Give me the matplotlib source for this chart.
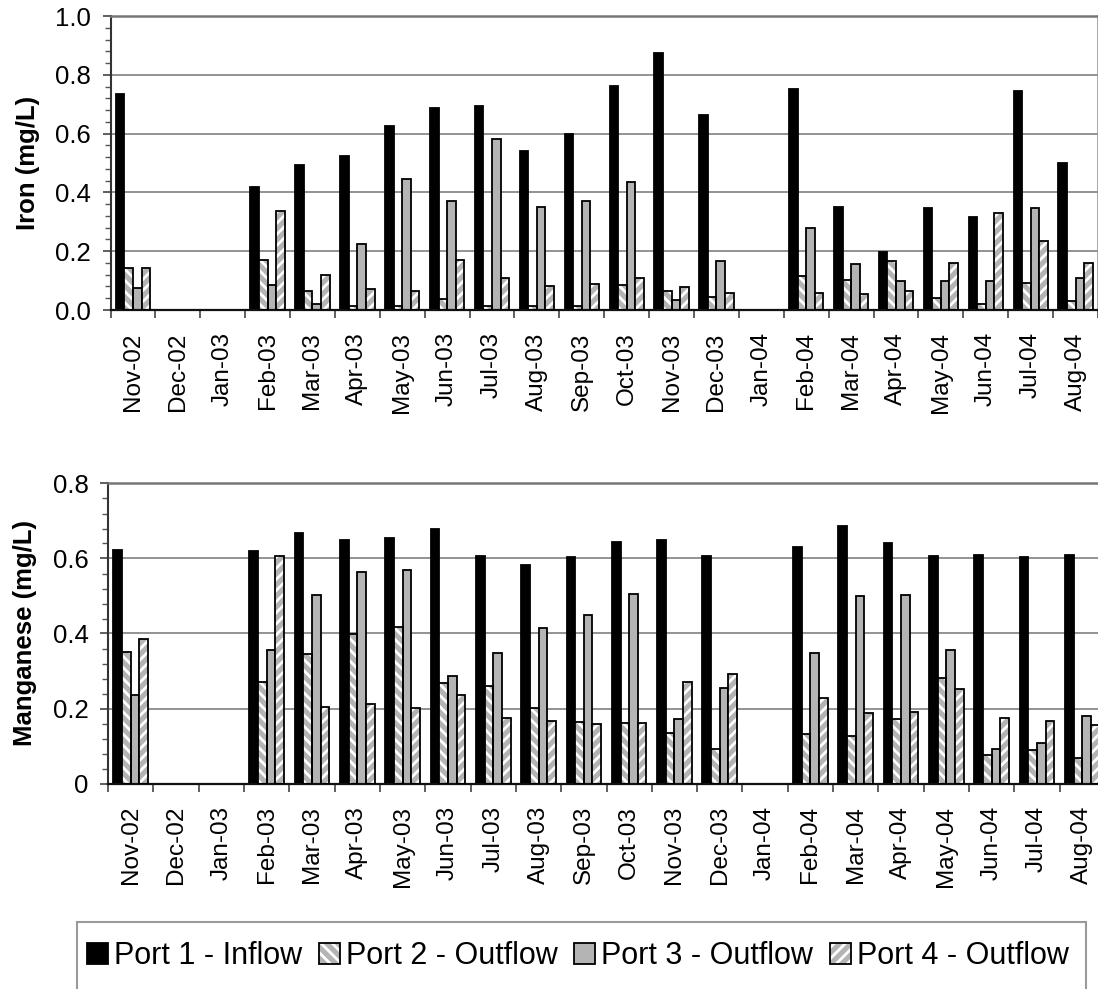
import numpy as np
import matplotlib
matplotlib.use('Agg')
import matplotlib.pyplot as plt
from matplotlib.patches import Patch, Rectangle
from matplotlib.ticker import MultipleLocator, FormatStrFormatter, FixedLocator

plt.rcParams['font.family'] = ['Liberation Sans', 'DejaVu Sans']
plt.rcParams['hatch.linewidth'] = 2.0

months = ['Nov-02', 'Dec-02', 'Jan-03', 'Feb-03', 'Mar-03', 'Apr-03', 'May-03', 'Jun-03',
          'Jul-03', 'Aug-03', 'Sep-03', 'Oct-03', 'Nov-03', 'Dec-03', 'Jan-04', 'Feb-04',
          'Mar-04', 'Apr-04', 'May-04', 'Jun-04', 'Jul-04', 'Aug-04']

series_names = ['Port 1 - Inflow', 'Port 2 - Outflow', 'Port 3 - Outflow', 'Port 4 - Outflow']

iron_p1 = [0.736, None, None, 0.419, 0.494, 0.523, 0.626, 0.688, 0.693, 0.540, 0.598,
           0.763, 0.874, 0.662, None, 0.753, 0.352, 0.197, 0.348, 0.315, 0.744, 0.499]
iron_p2 = [0.144, None, None, 0.171, 0.065, 0.014, 0.014, 0.038, 0.014, 0.014, 0.014,
           0.085, 0.065, 0.045, None, 0.116, 0.102, 0.166, 0.042, 0.019, 0.091, 0.031]
iron_p3 = [0.074, None, None, 0.085, 0.020, 0.226, 0.447, 0.370, 0.581, 0.349, 0.372,
           0.434, 0.034, 0.168, None, 0.280, 0.156, 0.097, 0.097, 0.097, 0.347, 0.110]
iron_p4 = [0.144, None, None, 0.337, 0.118, 0.072, 0.065, 0.170, 0.110, 0.083, 0.089,
           0.108, 0.077, 0.057, None, 0.057, 0.055, 0.063, 0.159, 0.329, 0.235, 0.160]

mn_p1 = [0.622, None, None, 0.620, 0.667, 0.649, 0.654, 0.678, 0.608, 0.582, 0.604,
         0.643, 0.649, 0.608, None, 0.630, 0.688, 0.641, 0.606, 0.610, 0.604, 0.610]
mn_p2 = [0.350, None, None, 0.270, 0.345, 0.400, 0.418, 0.268, 0.260, 0.202, 0.164,
         0.162, 0.135, 0.091, None, 0.131, 0.126, 0.171, 0.282, 0.077, 0.089, 0.068]
mn_p3 = [0.236, None, None, 0.356, 0.504, 0.563, 0.569, 0.286, 0.347, 0.414, 0.449,
         0.505, 0.172, 0.254, None, 0.348, 0.499, 0.504, 0.355, 0.091, 0.109, 0.181]
mn_p4 = [0.386, None, None, 0.607, 0.204, 0.213, 0.201, 0.236, 0.175, 0.166, 0.159,
         0.161, 0.272, 0.291, None, 0.229, 0.187, 0.191, 0.251, 0.175, 0.168, 0.155]

GRAY = '#b4b4b4'
styles = [
    dict(face='black', hatch=None),
    dict(face=GRAY, hatch='\\\\\\'),
    dict(face=GRAY, hatch=None),
    dict(face=GRAY, hatch='///'),
]

def to_arr(v):
    return np.array([np.nan if x is None else x for x in v], dtype=float)

W, H = 1098, 989
fig = plt.figure(figsize=(W / 100, H / 100), dpi=100)

def make_axes(px_left, px_right, px_top, px_bottom):
    return fig.add_axes([px_left / W, 1 - px_bottom / H,
                         (px_right - px_left) / W, (px_bottom - px_top) / H])

ax1 = make_axes(110.5, 1098, 16, 310)
ax2 = make_axes(108, 1105, 483.5, 783.5)

bar_w = 0.191
x = np.arange(len(months))

def draw(ax, data, ymax, ylabel, fmt):
    for j, vals in enumerate(data):
        v = to_arr(vals)
        pos = x + (j - 1.5) * bar_w
        st = styles[j]
        if st['hatch']:
            ax.bar(pos, v, bar_w, facecolor=st['face'], edgecolor='white',
                   hatch=st['hatch'], linewidth=0, zorder=2)
            ax.bar(pos, v, bar_w, facecolor='none', edgecolor='black',
                   linewidth=1.3, zorder=3)
        else:
            ax.bar(pos, v, bar_w, facecolor=st['face'], edgecolor='black',
                   linewidth=1.3, zorder=2)
    ax.set_xlim(-0.5, len(months) - 0.5)
    ax.set_ylim(0, ymax)
    ax.set_xticks(x)
    ax.set_xticklabels(months, rotation=90, ha='center', va='top')
    ax.xaxis.set_minor_locator(FixedLocator(np.arange(-0.5, len(months), 1)))
    ax.tick_params(axis='x', which='major', length=0, pad=16, labelsize=17.5)
    ax.tick_params(axis='x', which='minor', length=6, width=1.2, direction='out',
                   color='#444444')
    ax.yaxis.set_major_locator(MultipleLocator(0.2))
    ax.yaxis.set_minor_locator(MultipleLocator(0.04))
    ax.yaxis.set_major_formatter(FormatStrFormatter(fmt))
    ax.tick_params(axis='y', which='major', length=6, width=1.2, pad=8,
                   labelsize=18.5, color='#444444')
    ax.tick_params(axis='y', which='minor', length=4.3, width=1.0, color='#555555')
    ax.yaxis.grid(True, color='#8a8a8a', linewidth=1.3)
    ax.set_axisbelow(True)
    ax.spines['left'].set_color('#333333')
    ax.spines['left'].set_linewidth(1.5)
    ax.spines['bottom'].set_color('#111111')
    ax.spines['bottom'].set_linewidth(1.6)
    ax.spines['top'].set_color('#777777')
    ax.spines['top'].set_linewidth(1.8)
    ax.spines['right'].set_color('#999999')
    ax.spines['right'].set_linewidth(1.2)
    ax.set_ylabel(ylabel, fontsize=18.5, fontweight='bold')
    ax.yaxis.set_label_coords(-0.071, 0.5)

draw(ax1, [iron_p1, iron_p2, iron_p3, iron_p4], 1.0, 'Iron (mg/L)', '%.1f')
draw(ax2, [mn_p1, mn_p2, mn_p3, mn_p4], 0.8, 'Manganese (mg/L)', '%g')

# legend frame (bottom is cut by the image edge)
fig.patches.append(Rectangle((77 / W, -0.02), (1086 - 77) / W, 0.02 + 1 - 922 / H,
                             transform=fig.transFigure, facecolor='none',
                             edgecolor='#9a9a9a', linewidth=1.5))

handles = []
for j, st in enumerate(styles):
    if st['hatch']:
        h = (Patch(facecolor=st['face'], edgecolor='white', hatch=st['hatch'], linewidth=0),
             Patch(facecolor='none', edgecolor='black', linewidth=1.3))
    else:
        h = Patch(facecolor=st['face'], edgecolor='black', linewidth=1.3)
    handles.append(h)

fig.legend(handles, series_names, loc='center left', ncol=4, frameon=False,
           bbox_to_anchor=(87 / W, 1 - 956 / H), fontsize=22,
           handlelength=0.68, handleheight=0.68, handletextpad=0.2,
           columnspacing=0.55, borderpad=0, borderaxespad=0)

fig.savefig('out.png', dpi=100)
